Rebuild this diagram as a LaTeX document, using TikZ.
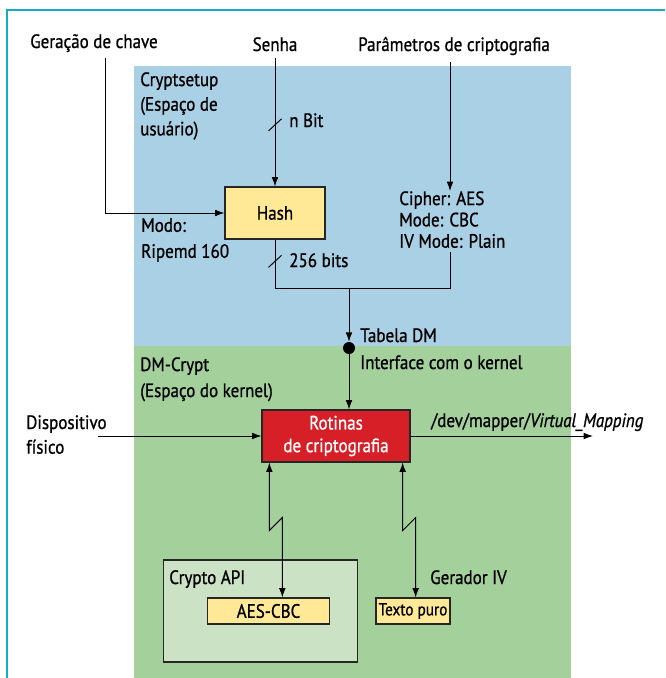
\documentclass[tikz,border=0pt]{standalone}
\usepackage{fontspec}
\setmainfont[FakeStretch=0.88,FakeBold=0.9]{PT Sans}
\usetikzlibrary{positioning,arrows.meta}
\definecolor{framecyan}{HTML}{1AA9C6}
\definecolor{userblue}{HTML}{A9D0E4}
\definecolor{kernelgreen}{HTML}{A3D09B}
\definecolor{hashyellow}{HTML}{FFE996}
\definecolor{routinered}{HTML}{D71F28}
\definecolor{apigreen}{HTML}{CBE3C4}

\begin{document}
\begin{tikzpicture}[x=0.75pt,y=-0.75pt,>={Latex[length=7pt,width=5pt]},
	txt/.style={inner sep=0pt,font=\fontsize{14.5}{18.5}\selectfont},
	box/.style={draw=black!85,line width=0.8pt,inner sep=0pt,font=\fontsize{14.5}{17}\selectfont},
	conn/.style={line width=0.7pt}]
	\useasboundingbox (0,0) rectangle (665,678);
	\fill[userblue] (134,66) rectangle (571,346);
	\fill[kernelgreen] (134,346) rectangle (571,678);
	\draw[framecyan,line width=1.5pt] (665,10) -| (7,678);

	\node[txt,anchor=base west] (gen) at (30,48) {Geração de chave};
	\node[txt,anchor=base] (senha) at (275,51) {Senha};
	\node[txt,anchor=base] (param) at (454,51) {Parâmetros de criptografia};
	\node[txt,anchor=north west,align=left] (userlbl) at (140,72) {Cryptsetup\\(Espaço de\\usuário)};
	\node[box,fill=hashyellow,minimum width=75pt,minimum height=39pt] (hash) at (275,213) {Hash};
	\node[txt,anchor=north west,align=left,font=\fontsize{14.5}{19.5}\selectfont] (modo) at (141,218) {Modo:\\Ripemd 160};
	\node[txt,anchor=north west,align=left,font=\fontsize{14.5}{16}\selectfont] (spec) at (399,191) {Cipher: AES\\Mode: CBC\\IV Mode: Plain};
	\node[circle,fill=black,inner sep=0pt,minimum size=9pt] (dot) at (349,348) {};
	\node[txt,anchor=base west] (tabela) at (360,342) {Tabela DM};
	\node[txt,anchor=base west] (iface) at (360,369) {Interface com o kernel};
	\node[txt,anchor=north west,align=left,font=\fontsize{14.5}{19.5}\selectfont] (kernellbl) at (140,357) {DM-Crypt\\(Espaço do kernel)};
	\node[box,fill=routinered,text=white,align=center,minimum width=111pt,minimum height=39pt] (rot) at (336,436) {Rotinas\\de criptografia};
	\node[txt,anchor=north west,align=left] (disp) at (26,415) {Dispositivo\\físico};
	\node[txt,anchor=base west] (devmap) at (431,427) {/dev/mapper/\textit{Virtual\_Mapping}};
	\node[box,fill=apigreen,minimum width=146pt,minimum height=76.5pt] (api) at (260.5,611) {};
	\node[txt,anchor=base west] (apilbl) at (169,584) {Crypto API};
	\node[box,fill=hashyellow,minimum width=91pt,minimum height=19.5pt] (aes) at (268.5,611) {AES-CBC};
	\node[box,fill=hashyellow,minimum width=55.5pt,minimum height=19.5pt,font=\fontsize{13}{15}\selectfont] (texto) at (413,611) {Texto puro};
	\node[txt,anchor=base west] (gerador) at (430,584) {Gerador IV};

	\coordinate (specx) at (450,0);
	\coordinate (join) at (349,288);
	\coordinate (dispin) at (98,436);
	\coordinate (devout) at (593,436);

	\draw[conn,->] ([xshift=8.5pt,yshift=-4pt]gen.south) |- (hash.west);
	\draw[conn,->] ([yshift=-5pt]senha.south) -- coordinate[pos=.52] (ntick) (hash.north);
	\draw[conn] (ntick) ++(-6.5,6) -- ++(13,-12);
	\node[txt,anchor=base west] (nbit) at (289,127) {n Bit};
	\draw[conn,->] ([yshift=-5pt]param.south -| specx) -- (spec.north -| specx);
	\draw[conn] (hash.south) -- coordinate[pos=.45] (btick) (hash.south |- join) -- (join);
	\draw[conn] (btick) ++(-6.5,6) -- ++(13,-12);
	\node[txt,anchor=base west] (bits) at (289,267) {256 bits};
	\draw[conn] ([yshift=-3pt]spec.south -| specx) |- (join);
	\draw[conn,->] (join) -- (dot);
	\draw[conn,->] (dot) -- (dot |- rot.north);
	\draw[conn,->] (dispin) -- (rot.west);
	\draw[conn,->] (rot.east) -- (devout);
	\draw[conn,<->] ([xshift=-50pt]rot.south) -- ++(0,68) -- ++(13,-13) coordinate (zigA) -- (aes.north -| zigA);
	\draw[conn,<->] ([xshift=50pt]rot.south) -- ++(0,68) -- ++(13,-13) coordinate (zigB) -- (texto.north -| zigB);
\end{tikzpicture}
\end{document}
